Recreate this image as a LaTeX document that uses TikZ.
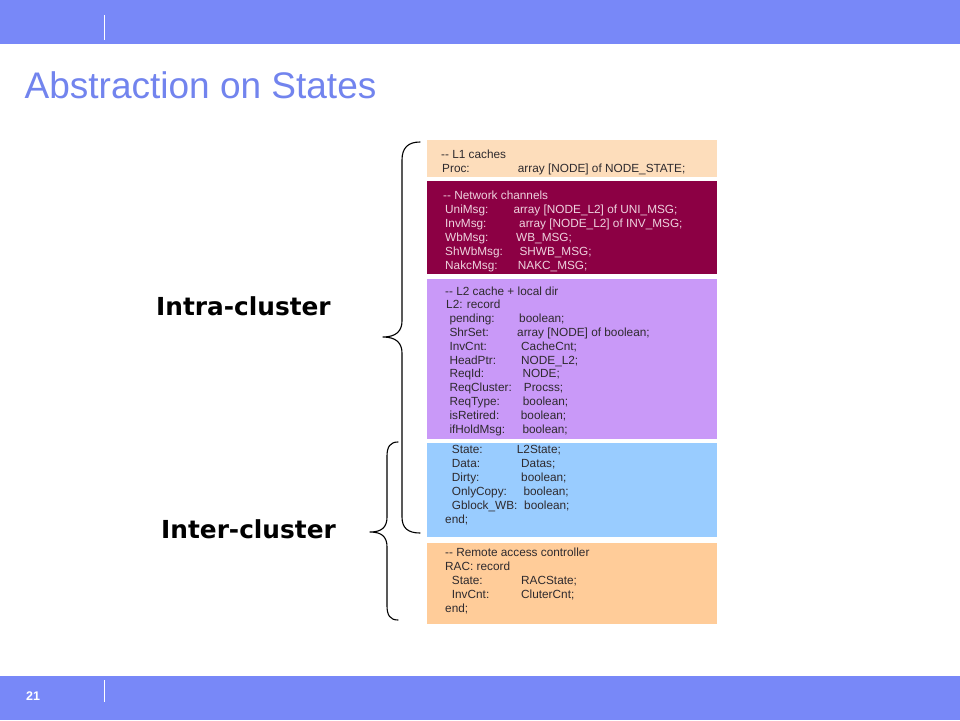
\documentclass[tikz,border=0pt]{standalone}
\usepackage{fontspec}
\setmainfont{Liberation Sans}
\newfontfamily\lblfont{DejaVu Sans}
\definecolor{barblue}{HTML}{7888F8}
\definecolor{titleblue}{HTML}{7284EE}
\definecolor{cpeach}{HTML}{FDDDBB}
\definecolor{cmaroon}{HTML}{8C0044}
\definecolor{clav}{HTML}{C999F8}
\definecolor{cblue}{HTML}{99CCFF}
\definecolor{corange}{HTML}{FFCC99}
\definecolor{codedark}{HTML}{2E2A2E}
\definecolor{codelight}{HTML}{EED2DE}
\tikzset{
  bar/.style={fill=barblue, draw=none, inner sep=0, anchor=north west, minimum width=960pt},
  box/.style={draw=none, inner sep=0, anchor=north west, minimum width=290pt},
  code/.style={anchor=base west, inner sep=0, font=\fontsize{11.8}{13}\selectfont, text=codedark},
  codew/.style={code, text=codelight},
  lbl/.style={anchor=base west, inner sep=0, font=\lblfont\bfseries\fontsize{24.8}{28}\selectfont, text=black},
  bracepath/.style={draw=black, line width=1.1pt, line cap=round, line join=round},
  sep/.style={draw=white, line width=0.9pt}
}
\newcommand{\crow}[7][code]{%
  \node[#1] (#2k) at (#4,#3) {#5};
  \node[#1] (#2v) at (#6,#3) {#7};}
\begin{document}
\begin{tikzpicture}[x=1pt,y=-1pt]
\useasboundingbox (0,0) rectangle (960,720);
\fill[white] (0,0) rectangle (960,720);
% bars
\node[bar, minimum height=44pt] (topbar) at (0,0) {};
\node[bar, minimum height=44pt] (botbar) at (0,676) {};
\draw[sep] (104.5,15) -- (104.5,40);
\draw[sep] (104.5,680) -- (104.5,702);
\node[anchor=base west, inner sep=0, text=white, font=\bfseries\fontsize{12.5}{14}\selectfont] (pnum) at (26,700.5) {21};
% title
\node[anchor=base west, inner sep=0, text=titleblue, font=\fontsize{37}{40}\selectfont] (title) at (24.5,98.5) {Abstraction on States};
% boxes
\node[box, fill=cpeach, minimum height=36.5pt] (b1) at (427,140) {};
\node[box, fill=cmaroon, minimum height=92.5pt] (b2) at (427,181) {};
\node[box, fill=clav, minimum height=160pt] (b3) at (427,279) {};
\node[box, fill=cblue, minimum height=94.5pt] (b4) at (427,442.5) {};
\node[box, fill=corange, minimum height=81pt] (b5) at (427,542.5) {};
% box 1
\node[code] (t1a) at (441,158) {-{}- L1 caches};
\crow{t1b}{172}{442}{Proc:}{517.7}{array [NODE] of NODE\_STATE;}
% box 2
\node[codew] (t2a) at (443,199.5) {-{}- Network channels};
\crow[codew]{t2b}{213.5}{445}{UniMsg:}{513.3}{array [NODE\_L2] of UNI\_MSG;}
\crow[codew]{t2c}{227.5}{445}{InvMsg:}{519}{array [NODE\_L2] of INV\_MSG;}
\crow[codew]{t2d}{241.5}{445}{WbMsg:}{516}{WB\_MSG;}
\crow[codew]{t2e}{255.5}{445}{ShWbMsg:}{519.3}{SHWB\_MSG;}
\crow[codew]{t2f}{269.5}{445}{NakcMsg:}{517.7}{NAKC\_MSG;}
% box 3
\node[code] (t3a) at (445,295) {-{}- L2 cache + local dir};
\node[code] (t3b) at (446,308.8) {L2: record};
\crow{t3c}{322.6}{449.3}{pending:}{519}{boolean;}
\crow{t3d}{336.4}{449.3}{ShrSet:}{517}{array [NODE] of boolean;}
\crow{t3e}{350.2}{449.3}{InvCnt:}{521}{CacheCnt;}
\crow{t3f}{364}{449.3}{HeadPtr:}{521}{NODE\_L2;}
\crow{t3g}{377.8}{449.3}{ReqId:}{522.3}{NODE;}
\crow{t3h}{391.6}{449.3}{ReqCluster:}{523.7}{Procss;}
\crow{t3i}{405.4}{449.3}{ReqType:}{522.7}{boolean;}
\crow{t3j}{419.2}{449.3}{isRetired:}{520.7}{boolean;}
\crow{t3k}{433}{449.3}{ifHoldMsg:}{522.3}{boolean;}
% box 4
\crow{t4a}{453.5}{451.7}{State:}{516.7}{L2State;}
\crow{t4b}{467.5}{451.7}{Data:}{521}{Datas;}
\crow{t4c}{481.5}{451.7}{Dirty:}{521}{boolean;}
\crow{t4d}{495.5}{451.7}{OnlyCopy:}{523.3}{boolean;}
\crow{t4e}{509.5}{451.7}{Gblock\_WB:}{524}{boolean;}
\node[code] (t4f) at (445,523.5) {end;};
% box 5
\node[code] (t5a) at (445,556.7) {-{}- Remote access controller};
\node[code] (t5b) at (445,570.7) {RAC: record};
\crow{t5c}{584.7}{451.7}{State:}{521}{RACState;}
\crow{t5d}{598.7}{451.7}{InvCnt:}{521}{CluterCnt;}
\node[code] (t5e) at (445,612.7) {end;};
% braces
\draw[bracepath] (420,142) .. controls (408,142) and (402,148) .. (402,160) -- (402,321)
  .. controls (402,331) and (396,337) .. (383,337)
  .. controls (396,337) and (402,343) .. (402,353) -- (402,517)
  .. controls (402,528) and (408,533) .. (420,533);
\draw[bracepath] (398,442) .. controls (390,442) and (387,447) .. (387,456) -- (387,517)
  .. controls (387,527) and (382,532) .. (370,532)
  .. controls (382,532) and (387,537) .. (387,547) -- (387,606)
  .. controls (387,615) and (390,620) .. (398,620);
% labels
\node[lbl] (intra) at (156,315) {Intra-cluster};
\node[lbl] (inter) at (161,538.3) {Inter-cluster};
\end{tikzpicture}
\end{document}
